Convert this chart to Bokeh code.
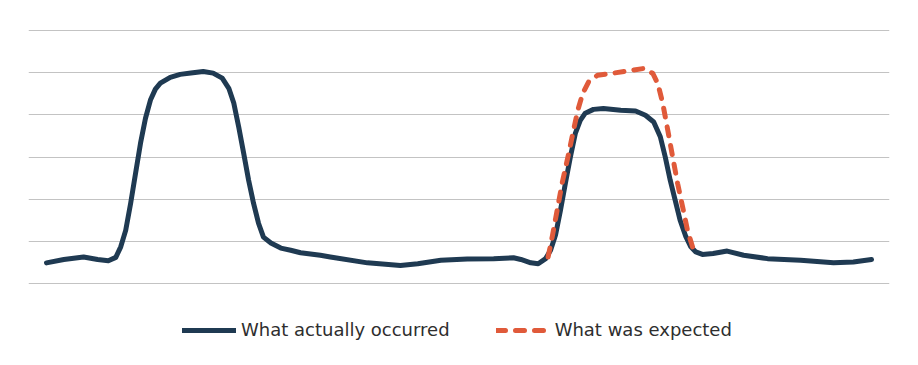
from bokeh.plotting import figure
from bokeh.models import Range1d, FixedTicker, Legend, LegendItem
from bokeh.embed import file_html
from bokeh.resources import INLINE

# time axis (arbitrary units 0-100) and values (0-60 scale, grid every 10)
actual_t = [0, 2.1, 4.5, 6.2, 7.5, 8.4, 9.0, 9.6, 10.2, 10.8, 11.4, 12.0, 12.6, 13.2, 13.8,
            15.0, 16.2, 17.5, 19.0, 20.2, 21.3, 22.1, 22.7, 23.3, 23.9, 24.5, 25.1, 25.7,
            26.3, 27.2, 28.4, 29.6, 30.8, 33.2, 34.4, 38.9, 42.9, 45.0, 47.8, 51.0, 54.2,
            56.6, 57.5, 58.7, 59.6, 60.5, 61.1, 61.7, 62.3, 62.9, 63.5, 64.1, 64.7, 65.3,
            66.3, 67.5, 69.6, 71.4, 72.6, 73.6, 74.4, 75.0, 75.6, 76.2, 76.8, 77.5, 78.1,
            78.7, 79.5, 80.8, 82.5, 84.5, 87.4, 91.4, 95.4, 97.8, 100]
actual_v = [4.9, 5.7, 6.3, 5.7, 5.4, 6.2, 8.7, 12.6, 19.0, 26.2, 33.3, 39.2, 43.5, 46.1, 47.5,
            48.9, 49.6, 49.9, 50.3, 49.9, 48.7, 46.3, 42.8, 37.1, 30.9, 24.5, 19.0, 14.3,
            11.0, 9.6, 8.4, 7.9, 7.3, 6.7, 6.3, 4.9, 4.3, 4.7, 5.5, 5.8, 5.9,
            6.1, 5.7, 4.9, 4.7, 5.9, 7.9, 11.5, 17.4, 23.8, 30.0, 35.6, 38.7, 40.4,
            41.3, 41.5, 41.1, 40.9, 39.9, 38.3, 34.8, 30.0, 24.5, 19.8, 15.0, 11.1, 8.7,
            7.5, 6.9, 7.1, 7.7, 6.7, 5.9, 5.5, 4.9, 5.1, 5.7]

expected_t = [60.8, 61.3, 61.9, 62.5, 63.2, 63.8, 64.4, 65.0, 65.7, 66.8, 68.4, 70.4, 72.4,
              73.5, 74.1, 74.7, 75.3, 75.9, 76.5, 77.1, 77.7, 78.3]
expected_v = [6.3, 11.1, 17.4, 23.8, 30.0, 35.6, 41.1, 45.1, 47.8, 49.4, 49.8, 50.4, 51.0,
              49.8, 47.4, 42.7, 36.4, 30.0, 23.7, 18.2, 12.6, 8.7]

y_ticks = [0, 10, 20, 30, 40, 50, 60]
labels = ["What actually occurred", "What was expected"]

p = figure(width=918, height=365, output_backend="svg", toolbar_location=None,
           x_range=Range1d(-2.18, 102.18), y_range=Range1d(-17.07, 60.24),
           frame_width=861, frame_height=326,
           min_border_left=28, min_border_right=29, min_border_top=29, min_border_bottom=10)
p.outline_line_color = None
p.xaxis.visible = False
p.yaxis.visible = False
p.xgrid.visible = False
p.yaxis.ticker = FixedTicker(ticks=y_ticks)
p.ygrid.ticker = FixedTicker(ticks=y_ticks)
p.ygrid.grid_line_color = "#c3c3c3"
p.ygrid.grid_line_width = 1

r1 = p.line(actual_t, actual_v, line_color="#1f3a52", line_width=5,
            line_join="round", line_cap="round")
r2 = p.line(expected_t, expected_v, line_color="#e05a3a", line_width=5,
            line_dash="9 10", line_join="round", line_cap="round")

legend = Legend(items=[LegendItem(label=labels[0], renderers=[r1]),
                       LegendItem(label=labels[1], renderers=[r2])],
                orientation="horizontal", location=(154, 15),
                glyph_width=54, glyph_height=20, label_standoff=5, spacing=46,
                padding=0, margin=0, border_line_alpha=0, background_fill_alpha=0,
                label_text_font="DejaVu Sans", label_text_font_size="18px",
                label_text_color="#2e2e2e")
p.add_layout(legend, "center")

open("out.html", "w").write(file_html(p, INLINE))
